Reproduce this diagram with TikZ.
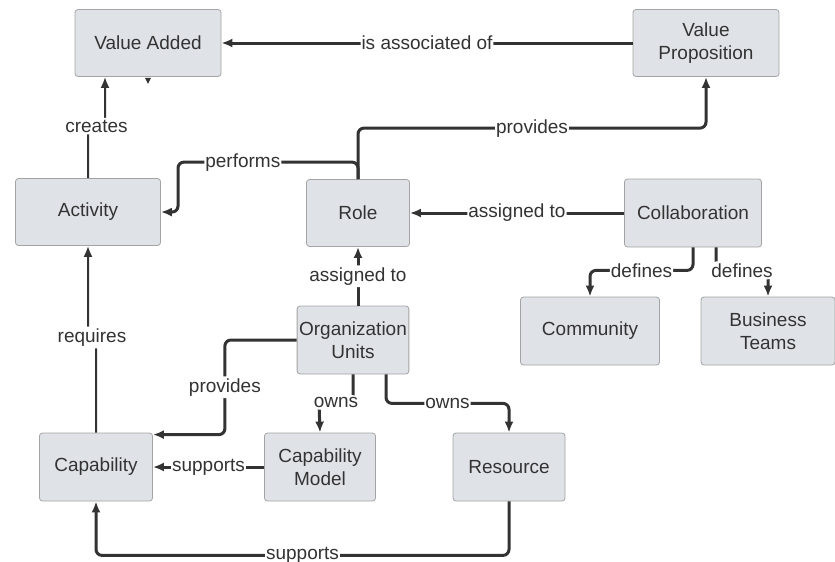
\documentclass[tikz,border=0pt]{standalone}
\usepackage{fontspec}
\setmainfont{Liberation Sans}
\usetikzlibrary{arrows.meta,positioning}

\definecolor{ink}{HTML}{333333}
\definecolor{boxfill}{HTML}{DFE3E8}
\definecolor{boxline}{HTML}{A3A3A3}

\begin{document}
\begin{tikzpicture}[x=1pt,y=-1pt,font=\fontsize{19}{23}\selectfont,text=ink,
  box/.style={draw=boxline,fill=boxfill,rounded corners=3pt,align=center,line width=0.8pt,inner sep=2pt},
  lbl/.style={fill=white,inner xsep=1pt,inner ysep=2pt},
  lnk/.style={draw=ink,line width=3pt,-{Latex[length=11pt,width=9pt]},rounded corners=6pt},
  thinlnk/.style={lnk,line width=2pt}]
  \useasboundingbox (0,0) rectangle (835,562);

  \node[box,minimum width=146pt,minimum height=67pt] (va) at (148,43) {Value Added};
  \node[box,minimum width=146pt,minimum height=67pt] (vp) at (706,43) {Value\\Proposition};
  \node[box,minimum width=145pt,minimum height=67pt] (act) at (88,212) {Activity};
  \node[box,minimum width=103pt,minimum height=67pt] (role) at (358,213) {Role};
  \node[box,minimum width=137pt,minimum height=68pt] (collab) at (693,213) {Collaboration};
  \node[box,minimum width=111pt,minimum height=68pt] (org) at (353,340) {Organization\\Units};
  \node[box,minimum width=139pt,minimum height=68pt] (com) at (590,331) {Community};
  \node[box,minimum width=134pt,minimum height=68pt] (bt) at (768,331) {Business\\Teams};
  \node[box,minimum width=113pt,minimum height=68pt] (cap) at (96,467) {Capability};
  \node[box,minimum width=111pt,minimum height=68pt] (cm) at (320,467) {Capability\\Model};
  \node[box,minimum width=112pt,minimum height=68pt] (res) at (509,467) {Resource};

  \draw[lnk] (vp) -- node[lbl]{is associated of} (va);
  \draw[thinlnk] (act.north) -- ++(0,-52) -- node[lbl]{creates} ++(17,0) -- ([xshift=-43pt]va.south);
  \fill[ink] (va.south) ++(-3,1) -- ++(6,0) -- ++(-3,6) -- cycle;
  \draw[lnk] (role.north) -- ++(0,-17) -- node[lbl,pos=0.64]{performs} ++(-180,0) -- ++(0,50) -- (act.east);
  \draw[lnk] (role.north) -- ++(0,-51) -| node[lbl,pos=0.25]{provides} (vp.south);
  \draw[lnk] (collab) -- node[lbl]{assigned to} (role);
  \draw[lnk] (collab.south) -- ++(0,23) -| node[lbl,pos=0.25]{defines} (com.north);
  \draw[lnk] ([xshift=23pt]collab.south) -- ++(0,23) -- node[lbl]{defines} ++(52,0) -- (bt.north);
  \draw[lnk] (role.south |- org.north) -- node[lbl]{assigned to} (role.south);
  \draw[lnk] (org.west) -| node[lbl,pos=0.75]{provides} ([xshift=72pt,yshift=-2pt]cap.north east) -- ([yshift=-2pt]cap.north east);
  \draw[lnk] (org.south) -- ++(0,28) -- node[lbl]{owns} ++(-34,0) -- (cm.north);
  \draw[lnk] ([xshift=33pt]org.south) -- ++(0,29) -| node[lbl,pos=0.25]{owns} (res.north);
  \draw[lnk] (cm) -- node[lbl]{supports} (cap);
  \draw[lnk] (res.south) -- ++(0,54) -| node[lbl,pos=0.25]{supports} (cap.south);
  \draw[thinlnk] (cap.north) -- ++(0,-95) -- node[lbl]{requires} ++(-8,0) -- (act.south);
\end{tikzpicture}
\end{document}
